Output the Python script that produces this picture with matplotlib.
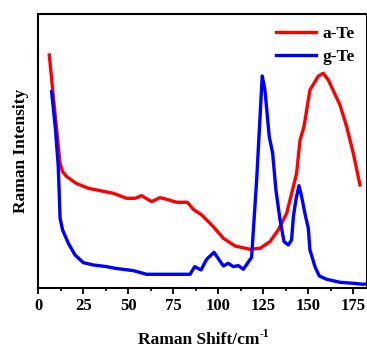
import matplotlib
matplotlib.use("Agg")
import matplotlib.pyplot as plt
from matplotlib.ticker import MultipleLocator

plt.rcParams['font.family'] = ['Liberation Serif', 'DejaVu Serif']
plt.rcParams['font.weight'] = 'bold'

a_te_x = [6.1, 9.0, 12.1, 13.5, 15.8, 21.0, 27.8, 34.3, 41.7, 49.1, 53.7, 57.4, 63.0,
          67.6, 71.3, 76.9, 82.8, 86.1, 90.8, 97.2, 102.8, 109.3, 117.6, 123.2, 128.7,
          133.3, 138.0, 141.3, 143.5, 145.4, 147.6, 150.9, 155.6, 158.3, 161.1, 167.6,
          171.3, 175.0, 178.7]
a_te_y = [700, 540, 375, 350, 335, 315, 300, 293, 285, 270, 270, 278, 260,
          272, 267, 258, 258, 237, 220, 185, 150, 127, 117, 120, 140,
          175, 225, 297, 345, 445, 485, 595, 637, 645, 625, 550,
          485, 405, 310]

g_te_x = [7.4, 9.5, 11.1, 12.1, 13.5, 16.7, 20.4, 25.0, 30.6, 38.0, 42.6, 52.8, 60.2,
          71.3, 84.3, 86.9, 90.4, 93.5, 97.6, 102.8, 105.6, 108.3, 111.1, 113.9,
          118.5, 121.3, 124.4, 125.9, 128.3, 130.2, 132.0, 134.3, 136.5,
          138.9, 140.7, 141.7, 143.1, 144.8, 146.3, 148.1, 150.0, 150.9, 153.7, 156.1,
          160.2, 167.6, 175.0, 180.6, 182.4]
g_te_y = [590, 480, 365, 210, 175, 135, 100, 77, 70, 65, 60, 53, 42,
          42, 42, 65, 55, 87, 108, 67, 75, 65, 68, 57,
          93, 325, 637, 595, 455, 405, 295, 205, 140,
          130, 145, 215, 265, 308, 275, 225, 180, 115, 65, 37,
          27, 18, 15, 12, 13]

fig = plt.figure(figsize=(3.67, 3.47), dpi=100)
ax = fig.add_axes([38.3/367, 58.7/347, 1 - 38.3/367, (333 - 58.7)/347])

ax.plot(a_te_x, a_te_y, color='#ff0000', lw=2.4, label='a-Te')
ax.plot(g_te_x, g_te_y, color='#0000ff', lw=2.4, label='g-Te')

ax.set_xlim(0, 182.6)
ax.set_ylim(0, 823)
ax.xaxis.set_major_locator(MultipleLocator(25))
ax.xaxis.set_minor_locator(MultipleLocator(12.5))
ax.set_yticks([])
ax.tick_params(axis='x', which='major', direction='out', length=4, width=1.3, labelsize=12, pad=3)
ax.tick_params(axis='x', which='minor', direction='out', length=2.5, width=1.2)
for lbl in ax.get_xticklabels():
    lbl.set_fontweight('bold')
for s in ['left', 'top', 'bottom', 'right']:
    ax.spines[s].set_linewidth(1.5)

# x label with small superscript
xl = fig.text(0.5, 339/347, '', fontsize=1)
main = fig.text(0, 1 - 340/347, 'Raman Shift/cm', fontsize=12.5, fontweight='bold',
                ha='left', va='center')
fig.canvas.draw()
r = fig.canvas.get_renderer()
bb = main.get_window_extent(r)
sup = fig.text(0, 0, '-1', fontsize=8.5, fontweight='bold', ha='left', va='center')
bb2 = sup.get_window_extent(r)
total = bb.width + bb2.width
cx = 204
x0 = cx - total / 2
main.set_x(x0 / 367)
sup.set_position(((x0 + bb.width) / 367, 1 - 334/347))

ax.set_ylabel('Raman Intensity', fontsize=12.5, fontweight='bold', labelpad=7)

ax.legend(loc='upper right', bbox_to_anchor=(1.0, 1.0), frameon=False, fontsize=12.5,
          handlelength=2.3, handletextpad=0.4, labelspacing=0.4, borderaxespad=0.3)

fig.savefig('out.png', dpi=100)
